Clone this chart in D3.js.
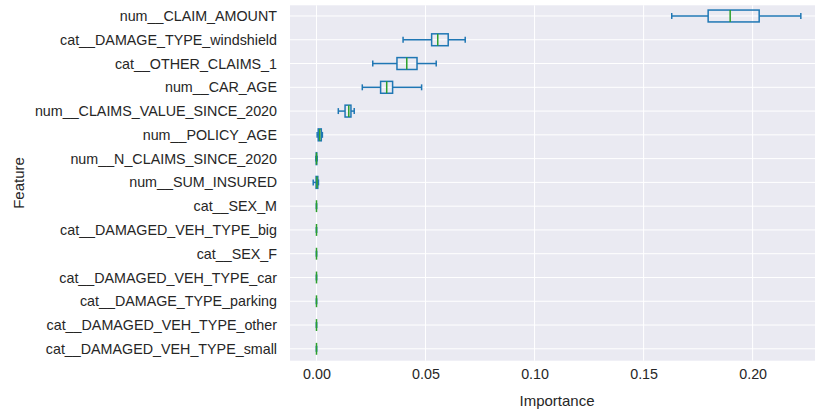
<!DOCTYPE html>
<html>
<head>
<meta charset="utf-8">
<script src="https://cdn.jsdelivr.net/npm/d3@7"></script>
<style>
  html, body { margin: 0; padding: 0; background: #ffffff; }
  svg { display: block; }
  text { font-family: "Liberation Sans", Arial, sans-serif; fill: #262626; }
</style>
</head>
<body>
<svg id="chart" width="815" height="411"></svg>
<script>
// Permutation importance per feature, listed top to bottom
const features = [
  "num__CLAIM_AMOUNT",
  "cat__DAMAGE_TYPE_windshield",
  "cat__OTHER_CLAIMS_1",
  "num__CAR_AGE",
  "num__CLAIMS_VALUE_SINCE_2020",
  "num__POLICY_AGE",
  "num__N_CLAIMS_SINCE_2020",
  "num__SUM_INSURED",
  "cat__SEX_M",
  "cat__DAMAGED_VEH_TYPE_big",
  "cat__SEX_F",
  "cat__DAMAGED_VEH_TYPE_car",
  "cat__DAMAGE_TYPE_parking",
  "cat__DAMAGED_VEH_TYPE_other",
  "cat__DAMAGED_VEH_TYPE_small"
];
// Box-plot statistics for each feature
const whiskerLow  = [0.1629, 0.0397, 0.0258, 0.0210, 0.0100, 0.0003, -0.0003, -0.0015, 0, 0, 0, 0, 0, 0, 0];
const q1          = [0.1796, 0.0528, 0.0369, 0.0294, 0.0131, 0.0008, -0.0001, -0.0002, 0, 0, 0, 0, 0, 0, 0];
const medians     = [0.1897, 0.0556, 0.0414, 0.0322, 0.0148, 0.0015,  0.0000,  0.0002, 0, 0, 0, 0, 0, 0, 0];
const q3          = [0.2030, 0.0604, 0.0461, 0.0349, 0.0158, 0.0022,  0.0001,  0.0006, 0, 0, 0, 0, 0, 0, 0];
const whiskerHigh = [0.2221, 0.0682, 0.0549, 0.0482, 0.0173, 0.0027,  0.0003,  0.0009, 0, 0, 0, 0, 0, 0, 0];
const xTicks = [0, 0.05, 0.10, 0.15, 0.20];

const rows = features.map((f, i) => ({
  name: f, pos: i + 1,
  lo: whiskerLow[i], q1: q1[i], med: medians[i], q3: q3[i], hi: whiskerHigh[i]
}));

const svg = d3.select("#chart");
const plot = { left: 290, right: 815, top: 5.3, bottom: 360.7 };

const x = d3.scaleLinear().domain([-0.01215, 0.2286]).range([plot.left, plot.right]);
const y = d3.scaleLinear().domain([0.55, 15.5]).range([plot.top, plot.bottom]);
const rowStep = y(2) - y(1);
const boxH = rowStep * 0.5;
const capH = boxH * 0.5;

// plot background
svg.append("rect")
  .attr("x", plot.left).attr("y", plot.top)
  .attr("width", plot.right - plot.left).attr("height", plot.bottom - plot.top)
  .attr("fill", "#eaeaf2");

// grid lines
const grid = svg.append("g").attr("stroke", "#ffffff").attr("stroke-width", 1);
grid.selectAll("line.gx").data(xTicks).join("line")
  .attr("x1", d => x(d)).attr("x2", d => x(d))
  .attr("y1", plot.top).attr("y2", plot.bottom);
grid.selectAll("line.gy").data(rows).join("line")
  .attr("x1", plot.left).attr("x2", plot.right)
  .attr("y1", d => y(d.pos)).attr("y2", d => y(d.pos));

// x axis labels
const xAxis = d3.axisBottom(x).tickValues(xTicks).tickFormat(d3.format(".2f")).tickSize(0).tickPadding(8);
svg.append("g").attr("transform", `translate(0,${plot.bottom})`).call(xAxis)
  .call(g => g.select(".domain").remove())
  .call(g => g.selectAll("text").attr("font-size", 14.3).attr("fill", "#262626")
    .attr("font-family", "Liberation Sans, Arial, sans-serif"));

// y axis labels
const yAxis = d3.axisLeft(y).tickValues(rows.map(r => r.pos)).tickFormat((d, i) => features[i]).tickSize(0).tickPadding(13);
svg.append("g").attr("transform", `translate(${plot.left},0)`).call(yAxis)
  .call(g => g.select(".domain").remove())
  .call(g => g.selectAll("text").attr("font-size", 14.3).attr("fill", "#262626")
    .attr("font-family", "Liberation Sans, Arial, sans-serif"));

// axis titles
svg.append("text").attr("x", 557).attr("y", 406)
  .attr("text-anchor", "middle").attr("font-size", 15).text("Importance");
svg.append("text").attr("transform", `translate(24,${(plot.top + plot.bottom) / 2}) rotate(-90)`)
  .attr("text-anchor", "middle").attr("font-size", 15).text("Feature");

// box plots
const blue = "#1f77b4", green = "#2ca02c";
const boxes = svg.append("g").selectAll("g").data(rows).join("g");
boxes.append("line").attr("stroke", blue).attr("stroke-width", 1.5)
  .attr("x1", d => x(d.lo)).attr("x2", d => x(d.q1))
  .attr("y1", d => y(d.pos)).attr("y2", d => y(d.pos));
boxes.append("line").attr("stroke", blue).attr("stroke-width", 1.5)
  .attr("x1", d => x(d.q3)).attr("x2", d => x(d.hi))
  .attr("y1", d => y(d.pos)).attr("y2", d => y(d.pos));
boxes.selectAll("line.cap").data(d => [[d.lo, d.pos], [d.hi, d.pos]]).join("line")
  .attr("stroke", blue).attr("stroke-width", 1.5)
  .attr("x1", c => x(c[0])).attr("x2", c => x(c[0]))
  .attr("y1", c => y(c[1]) - capH / 2).attr("y2", c => y(c[1]) + capH / 2);
boxes.append("rect").attr("fill", "none").attr("stroke", blue).attr("stroke-width", 1.5)
  .attr("x", d => x(d.q1)).attr("width", d => x(d.q3) - x(d.q1))
  .attr("y", d => y(d.pos) - boxH / 2).attr("height", boxH);
boxes.append("line").attr("stroke", green).attr("stroke-width", 1.5)
  .attr("x1", d => x(d.med)).attr("x2", d => x(d.med))
  .attr("y1", d => y(d.pos) - boxH / 2).attr("y2", d => y(d.pos) + boxH / 2);
</script>
</body>
</html>
